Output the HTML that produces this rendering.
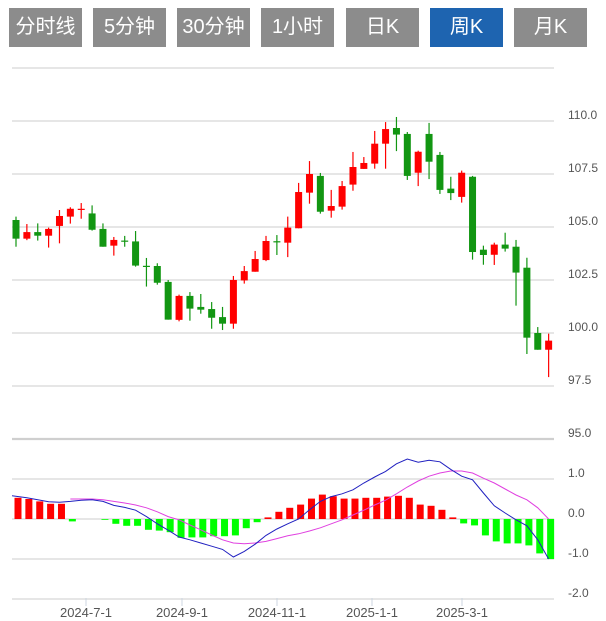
<!DOCTYPE html>
<html><head><meta charset="utf-8">
<style>
html,body{margin:0;padding:0;background:#fff;width:606px;height:621px;overflow:hidden}
.btn{position:absolute;top:8px;height:39px;width:73px;background:#8c8c8c;color:#fff;font:20px "Liberation Sans","Noto Sans CJK SC",sans-serif;text-align:center;line-height:39px}
.btn.on{background:#1e64b0}
svg{position:absolute;left:0;top:0}
text{font-family:"Liberation Sans",sans-serif;font-size:12px;fill:#555}
text.date{font-size:13px}
</style></head><body>
<div class="btn" style="left:9px">分时线</div>
<div class="btn" style="left:93px">5分钟</div>
<div class="btn" style="left:177px">30分钟</div>
<div class="btn" style="left:261px">1小时</div>
<div class="btn" style="left:346px">日K</div>
<div class="btn on" style="left:430px">周K</div>
<div class="btn" style="left:514px">月K</div>
<svg id="chart" width="606" height="621" style="top:0"></svg>
<script>
const opens=[105.33,104.45,104.76,104.59,105.05,105.49,105.83,105.64,104.91,104.12,104.36,104.32,103.17,103.16,102.41,100.62,101.75,101.23,101.13,100.75,100.44,102.48,102.89,103.44,104.33,104.26,104.94,106.62,107.41,105.77,105.96,107.00,107.74,107.99,108.93,109.67,109.39,107.56,109.39,108.40,106.81,106.42,107.37,103.93,103.69,104.17,104.07,103.08,100.00,99.21];
const closes=[104.45,104.76,104.59,104.91,105.52,105.86,105.86,104.87,104.07,104.39,104.31,103.18,103.14,102.37,100.63,101.75,101.15,101.10,100.72,100.44,102.50,102.92,103.49,104.34,104.28,104.97,106.65,107.50,105.72,105.99,106.93,107.83,108.02,108.93,109.62,109.36,107.41,108.55,108.08,106.75,106.60,107.56,103.82,103.68,104.17,103.98,102.85,99.78,99.21,99.64];
const highs=[105.49,105.14,105.17,104.97,105.80,105.93,106.13,106.02,105.17,104.53,104.58,104.81,103.54,103.29,102.50,101.81,101.93,101.84,101.46,101.23,102.69,103.16,103.87,104.58,104.62,105.49,107.08,108.11,107.55,106.75,107.17,108.54,108.30,109.53,109.95,110.19,109.48,108.60,109.91,108.54,107.37,107.66,107.41,104.12,104.26,104.73,104.39,103.55,100.28,99.97];
const lows=[104.07,104.38,104.36,104.03,104.23,105.16,105.39,104.83,104.07,103.65,104.07,103.13,102.19,102.28,100.63,100.55,100.58,100.91,100.20,100.14,100.20,102.33,102.89,103.39,103.68,103.58,104.94,106.10,105.63,105.44,105.82,106.71,107.74,107.75,107.75,108.58,107.22,106.93,107.26,106.56,106.27,106.15,103.46,103.22,103.21,103.84,101.29,99.01,99.21,97.92];
const macdHist=[0.53,0.5,0.44,0.38,0.38,-0.06,0,0,-0.02,-0.12,-0.17,-0.17,-0.27,-0.29,-0.33,-0.47,-0.46,-0.46,-0.43,-0.43,-0.41,-0.23,-0.08,0.04,0.18,0.28,0.36,0.51,0.61,0.57,0.51,0.51,0.53,0.53,0.56,0.58,0.53,0.36,0.33,0.23,0.04,-0.11,-0.16,-0.41,-0.56,-0.61,-0.61,-0.66,-0.86,-1.0];
const difLine=[0.58,0.53,0.48,0.43,0.42,0.44,0.47,0.48,0.44,0.34,0.29,0.22,0.06,-0.12,-0.28,-0.45,-0.52,-0.6,-0.68,-0.76,-0.95,-0.81,-0.63,-0.41,-0.25,-0.12,0,0.23,0.44,0.56,0.63,0.73,0.9,1.05,1.19,1.38,1.5,1.42,1.47,1.43,1.24,1.07,0.98,0.65,0.33,0.15,-0.02,-0.17,-0.52,-1.0];
const deaLine=[null,null,null,null,null,0.5,0.5,0.5,0.48,0.44,0.4,0.35,0.28,0.18,0.06,-0.02,-0.15,-0.27,-0.4,-0.52,-0.6,-0.62,-0.6,-0.56,-0.49,-0.42,-0.37,-0.3,-0.22,-0.12,-0.02,0.1,0.22,0.35,0.47,0.63,0.8,0.95,1.07,1.15,1.2,1.2,1.15,1.02,0.9,0.75,0.6,0.48,0.28,0];
const priceTicks=[110.0,107.5,105.0,102.5,100.0,97.5,95.0];
const macdTicks=[1.0,0.0,-1.0,-2.0];
const dateLabels=["2024-7-1","2024-9-1","2024-11-1","2025-1-1","2025-3-1"];
const dateIndex=[6.44,15.27,24.01,32.75,41.03];

const svg=document.getElementById('chart');
const NS='http://www.w3.org/2000/svg';
function mk(t,a){const e=document.createElementNS(NS,t);for(const k in a)e.setAttribute(k,a[k]);svg.appendChild(e);return e;}
const xi=i=>16+i*10.87;
const py=p=>121+(110-p)*21.2;
const my=v=>519-v*40;
const L=12,R=554;
[112.5,...priceTicks].forEach(p=>{const g=mk('line',{x1:L,x2:R,y1:py(p),y2:py(p),stroke:p===95?'#cfcfcf':'#d8d8d8','stroke-width':p===95?2.2:1.3});

});
[1,0,-1,-2].forEach(v=>{const g=mk('line',{x1:L,x2:R,y1:my(v),y2:my(v),stroke:'#d8d8d8','stroke-width':1.3});

});
priceTicks.forEach(p=>{const t=mk('text',{x:568,y:py(p)-2});t.textContent=p.toFixed(1);

});
macdTicks.forEach(v=>{const t=mk('text',{x:568,y:my(v)-2});t.textContent=v.toFixed(1);

});
dateLabels.forEach((d,k)=>{const x=xi(dateIndex[k]);
const tk=mk('line',{x1:x,x2:x,y1:598,y2:606,stroke:'#ccd6e0'});


const t=mk('text',{x:x,y:617,'text-anchor':'middle','class':'date'});t.textContent=d;

});
opens.forEach((o,i)=>{const c=closes[i];const col=c>=o?'#f00':'#129612';const x=xi(i);
const w=mk('line',{x1:x,x2:x,y1:py(highs[i]),y2:py(lows[i]),stroke:col,'stroke-width':1.2});


const top=py(Math.max(o,c)),h=Math.max(1.2,Math.abs(py(o)-py(c)));
const b=mk('rect',{x:x-3.5,y:top,width:7,height:h,fill:col});

});
macdHist.forEach((v,i)=>{if(Math.abs(v)<0.005)return;const x=xi(i)+2;const y0=my(0),y1=my(v);
const r=mk('rect',{x:x-3.5,y:Math.min(y0,y1),width:7,height:Math.abs(y1-y0),fill:v>0?'#f00':'#0f0'});

});
function poly(arr,col,name){const pts=[];arr.forEach((v,i)=>{if(v!==null)pts.push(xi(i)+(i===0?-4:0)+','+my(v));});
const p=mk('polyline',{points:pts.join(' '),fill:'none',stroke:col,'stroke-width':1});

}
poly(deaLine,'#e040e0','dea-line');
poly(difLine,'#2020c0','dif-line');
</script>
</body></html>
